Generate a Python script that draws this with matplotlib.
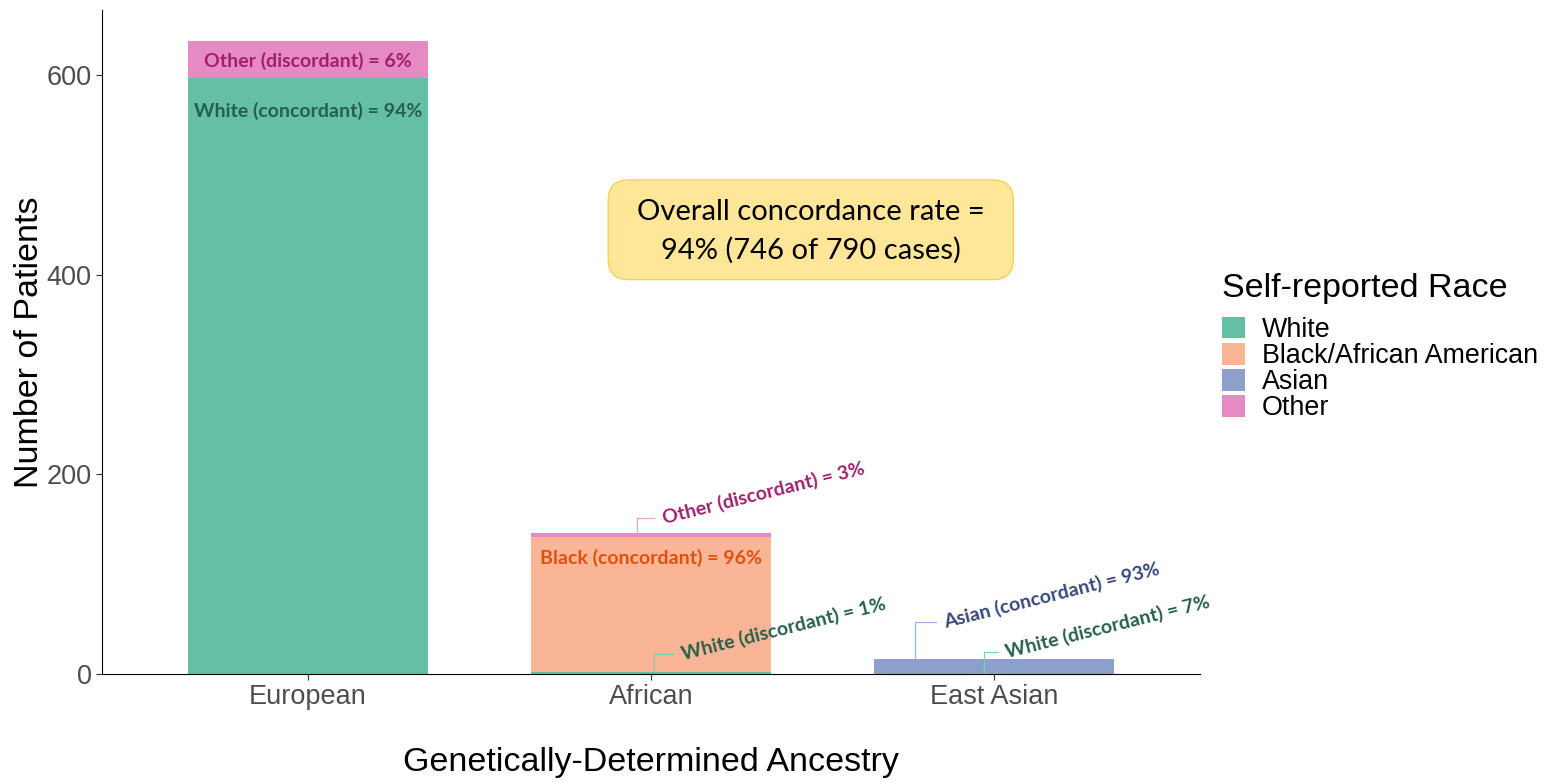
import matplotlib
matplotlib.use("Agg")
import matplotlib.pyplot as plt
from matplotlib.patches import Patch, FancyBboxPatch
import numpy as np

plt.rcParams['font.family'] = ['Liberation Sans', 'DejaVu Sans']

ancestry = ["European", "African", "East Asian"]
races = ["White", "Black/African American", "Asian", "Other"]
counts = {
    "White": [597, 2, 1],
    "Black/African American": [0, 135, 0],
    "Asian": [0, 0, 14],
    "Other": [37, 4, 0],
}
stack_order = ["White", "Black/African American", "Asian", "Other"]
colors = {
    "White": "#64BFA4",
    "Black/African American": "#F9B596",
    "Asian": "#8DA0CB",
    "Other": "#E68AC3",
}
txt_col = {
    "White": "#25604A",
    "Black/African American": "#E0500F",
    "Asian": "#38487A",
    "Other": "#A0206E",
}
line_col = {
    "White": "#7FCFB5",
    "Asian": "#9DB0DA",
    "Other": "#EFA0D2",
}

# inside-bar labels: (bar index, y, text, race)
inner_labels = [
    (0, 614, "Other (discordant) = 6%", "Other"),
    (0, 564, "White (concordant) = 94%", "White"),
    (1, 116, "Black (concordant) = 96%", "Black/African American"),
]
# leader labels: (x, y_from, y_to, x_end, text, race)
leader_labels = [
    (1.96, 141, 156, 2.01, "Other (discordant) = 3%", "Other"),
    (2.01, 2, 20, 2.065, "White (discordant) = 1%", "White"),
    (2.77, 15, 52, 2.83, "Asian (concordant) = 93%", "Asian"),
    (2.97, 0, 22, 3.01, "White (discordant) = 7%", "White"),
]

fig = plt.figure(figsize=(15.49, 7.82), dpi=100)
ax = fig.add_axes([0.0659, 0.1381, 0.7088, 0.8489])

x = np.arange(1, len(ancestry) + 1)
bottom = np.zeros(len(ancestry))
for r in stack_order:
    v = np.array(counts[r], dtype=float)
    ax.bar(x, v, 0.7, bottom=bottom, color=colors[r], linewidth=0)
    bottom += v

for i, y, t, r in inner_labels:
    ax.text(x[i], y, t, ha="center", va="center", fontsize=14,
            fontweight="bold", family="Lato", color=txt_col[r])

for lx, y0, y1, xe, t, r in leader_labels:
    ax.plot([lx, lx, xe], [y0, y1, y1], color=line_col[r], lw=0.9)
    ax.text(xe + 0.025, y1, t, ha="left", va="center", rotation=14,
            rotation_mode="anchor", fontsize=14, fontweight="bold",
            family="Lato", color=txt_col[r])

# summary box
box = FancyBboxPatch((1.875, 395), 1.181, 100,
                     boxstyle="round,pad=0,rounding_size=0.06",
                     mutation_aspect=344, fc="#FFE699", ec="#F7C948", lw=0.8)
ax.add_patch(box)
ax.text(2.4655, 443, "Overall concordance rate =\n94% (746 of 790 cases)",
        ha="center", va="center", fontsize=21, family="Lato", color="black",
        linespacing=1.55)

ax.set_xlim(0.4, 3.6)
ax.set_ylim(0, 665)
ax.set_xticks(x)
ax.set_xticklabels(ancestry)
ax.set_yticks([0, 200, 400, 600])
ax.tick_params(axis="both", labelsize=19.5, colors="#333333", labelcolor="#4D4D4D",
               length=4, width=0.8)
for s in ["top", "right"]:
    ax.spines[s].set_visible(False)
ax.spines["left"].set_linewidth(0.8)
ax.spines["bottom"].set_linewidth(0.8)

ax.set_xlabel("Genetically-Determined Ancestry", fontsize=24.5, labelpad=26)
ax.set_ylabel("Number of Patients", fontsize=24.5, labelpad=1)

fig.text(1222 / 1549, 1 - 288 / 782, "Self-reported Race", fontsize=24.5,
         ha="left", va="center")
handles = [Patch(facecolor=colors[r], edgecolor="none") for r in races]
leg = fig.legend(handles, races, loc="upper left",
                 bbox_to_anchor=(1222 / 1549, 1 - 317 / 782),
                 frameon=False, fontsize=19.4, handlelength=0.85,
                 handleheight=0.85, handletextpad=0.62, labelspacing=0.0,
                 borderaxespad=0, borderpad=0)

fig.savefig("out.png", dpi=100)
